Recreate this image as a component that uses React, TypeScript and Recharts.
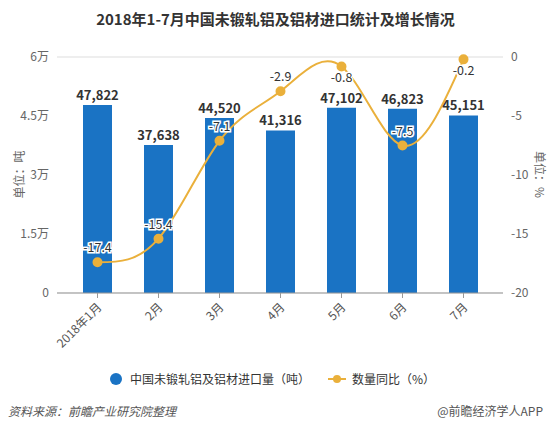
import { ComposedChart, Bar, Line, XAxis, YAxis, CartesianGrid, LabelList } from "recharts"

const months = ["2018年1月", "2月", "3月", "4月", "5月", "6月", "7月"]
const imports = [47822, 37638, 44520, 41316, 47102, 46823, 45151]
const growth = [-17.4, -15.4, -7.1, -2.9, -0.8, -7.5, -0.2]
const leftTicks = [0, 15000, 30000, 45000, 60000]
const rightTicks = [-20, -15, -10, -5, 0]

const data = months.map((m, i) => ({ month: m, imports: imports[i], growth: growth[i] }))

const FONT = '"Noto Sans CJK SC", "Noto Sans", sans-serif'
const BLUE = "#1a73c4"
const GOLD = "#eab03b"

const fmtWan = (v: number) => (v === 0 ? "0" : `${v / 10000}万`)

const MonthTick = ({ x, y, payload }: any) => (
  <text
    x={x + 5}
    y={y + 8}
    textAnchor="end"
    transform={`rotate(-45, ${x + 5}, ${y + 8})`}
    fontSize={12}
    fill="#555"
    fontFamily={FONT}
  >
    {payload.value}
  </text>
)

// labels near the top edge go under the point, the rest above it
const GrowthLabel = ({ x, y, value }: any) => (
  <text
    x={x}
    y={y < 75 ? y + 16 : y - 10}
    textAnchor="middle"
    fontSize={12.5}
    fill="#333"
    stroke="#fff"
    strokeWidth={3}
    paintOrder="stroke"
    fontFamily={FONT}
  >
    {value}
  </text>
)

const App = () => {
  return (
    <div style={{ position: "absolute", left: 0, top: 0, width: 551, height: 429, background: "#fff", fontFamily: FONT }}>
      <div style={{ position: "absolute", top: 8, left: 0, width: 551, textAlign: "center", fontSize: 15, fontWeight: "bold", color: "#333" }}>
        2018年1-7月中国未锻轧铝及铝材进口统计及增长情况
      </div>
      <div style={{ position: "absolute", left: -12, top: 166, width: 60, textAlign: "center", fontSize: 12, color: "#666", transform: "rotate(-90deg)" }}>
        单位：吨
      </div>
      <div style={{ position: "absolute", left: 510, top: 166, width: 60, textAlign: "center", fontSize: 12, color: "#666", transform: "rotate(90deg)" }}>
        单位：%
      </div>
      <ComposedChart width={551} height={429} data={data} margin={{ top: 57, right: 0, bottom: 76, left: 0 }}>
        <CartesianGrid vertical={false} stroke="#ddd" />
        <XAxis
          dataKey="month"
          tick={<MonthTick />}
          tickLine={{ stroke: "#999" }}
          axisLine={{ stroke: "#999" }}
          tickSize={5}
          height={60}
          padding={{ left: 10, right: 9 }}
          interval={0}
        />
        <YAxis
          yAxisId="left"
          width={57}
          domain={[0, 60000]}
          ticks={leftTicks}
          tickFormatter={fmtWan}
          axisLine={false}
          tickLine={false}
          tick={{ fontSize: 12, fill: "#666", fontFamily: FONT }}
        />
        <YAxis
          yAxisId="right"
          orientation="right"
          width={48}
          domain={[-20, 0]}
          ticks={rightTicks}
          axisLine={false}
          tickLine={false}
          tick={{ fontSize: 12, fill: "#666", fontFamily: FONT }}
        />
        <Bar yAxisId="left" dataKey="imports" fill={BLUE} barSize={29} isAnimationActive={false}>
          <LabelList
            dataKey="imports"
            position="top"
            offset={5}
            formatter={(v: any) => Number(v).toLocaleString("en-US")}
            style={{ fontSize: 13, fontWeight: "bold", fill: "#333", fontFamily: FONT }}
          />
        </Bar>
        <Line
          yAxisId="right"
          type="natural"
          dataKey="growth"
          stroke={GOLD}
          strokeWidth={2}
          dot={{ r: 4, fill: GOLD, stroke: GOLD }}
          isAnimationActive={false}
        >
          <LabelList dataKey="growth" content={<GrowthLabel />} />
        </Line>
      </ComposedChart>
      <div style={{ position: "absolute", top: 370, left: 110, display: "flex", alignItems: "center", fontSize: 12, color: "#333" }}>
        <span style={{ display: "inline-block", width: 12, height: 12, borderRadius: 6, background: BLUE, marginRight: 8 }} />
        <span>中国未锻轧铝及铝材进口量（吨）</span>
        <span style={{ position: "relative", display: "inline-block", width: 18, height: 12, marginLeft: 18, marginRight: 6 }}>
          <span style={{ position: "absolute", left: 0, top: 5, width: 18, height: 2, background: GOLD }} />
          <span style={{ position: "absolute", left: 5, top: 2, width: 8, height: 8, borderRadius: 4, background: GOLD }} />
        </span>
        <span>数量同比（%）</span>
      </div>
      <div style={{ position: "absolute", top: 402, left: 8, fontSize: 12, color: "#555", fontStyle: "italic" }}>
        资料来源：前瞻产业研究院整理
      </div>
      <div style={{ position: "absolute", top: 402, right: 8, fontSize: 12, color: "#555" }}>
        @前瞻经济学人APP
      </div>
    </div>
  )
}

export default App
